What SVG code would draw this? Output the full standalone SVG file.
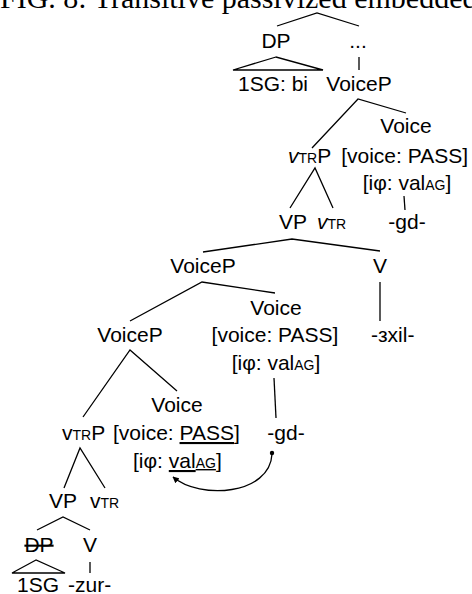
<svg xmlns="http://www.w3.org/2000/svg" width="472" height="594" viewBox="0 0 472 594">
<defs>
<style>
.t{font-family:"Liberation Sans",Arial,sans-serif;font-size:21px;fill:#000}
.s{font-size:14px}
.m{text-anchor:middle}
.e{text-anchor:end}
.title{font-family:"Liberation Serif","Times New Roman",serif;font-size:30px;fill:#000}
.ln{stroke:#000;stroke-width:1.3;fill:none}
</style>
<marker id="ah" viewBox="0 0 10 10" refX="9" refY="5" markerWidth="5" markerHeight="5" orient="auto">
<path d="M0,0 L10,5 L0,10 Z" fill="#000"/>
</marker>
</defs>
<rect width="472" height="594" fill="#fff"/>
<text class="title" x="0" y="8">FIG. 8: Transitive passivized embedded</text>
<g id="connectors">
<polyline class="ln" points="277,26 317,13 359,26"/>
<line class="ln" x1="359" y1="57" x2="359" y2="70"/>
<polygon class="ln" points="276,57 233,70 323,70"/>
<polyline class="ln" points="312,148 358,99 406,113"/>
<polyline class="ln" points="290,208 315,168 333,208"/>
<line class="ln" x1="404" y1="196" x2="405" y2="210"/>
<polyline class="ln" points="203,252 292,239 380,251"/>
<line class="ln" x1="380" y1="282" x2="380" y2="321"/>
<polyline class="ln" points="130,321 202,282 275,293"/>
<line class="ln" x1="274" y1="378" x2="276" y2="418"/>
<polyline class="ln" points="83,417 130,350 177,391"/>
<polyline class="ln" points="64,488 80,448 105,488"/>
<polyline class="ln" points="37,530 63,517 90,530"/>
<line class="ln" x1="90" y1="562" x2="90" y2="573"/>
<polygon class="ln" points="36,560 12,573 65,573"/>
<circle cx="272" cy="453" r="2.2" fill="#000"/>
<path class="ln" stroke-width="1" d="M272,454 C270,495 200,500 173,477" marker-end="url(#ah)"/>
</g>
<g id="n-dp-top"><text class="t m" x="276" y="48">DP</text></g>
<g id="n-dots"><text class="t m" x="358" y="48">...</text></g>
<g id="n-1sg-bi"><text class="t m" x="273" y="91">1SG: bi</text></g>
<g id="n-voicep1"><text class="t m" x="359" y="91">VoiceP</text></g>
<g id="n-voice1">
<text class="t m" x="406" y="133">Voice</text>
<text class="t e" x="468" y="163">[voice: PASS]</text>
<text class="t m" x="407" y="190">[iφ: val<tspan class="s">AG</tspan>]</text>
</g>
<g id="n-vtrp1"><text class="t" x="288" y="163"><tspan font-style="italic">v</tspan><tspan class="s">TR</tspan>P</text></g>
<g id="n-gd1"><text class="t m" x="407" y="229">-gd-</text></g>
<g id="n-vp1"><text class="t m" x="293" y="229">VP</text></g>
<g id="n-vtr1"><text class="t" x="317" y="229"><tspan font-style="italic">v</tspan><tspan class="s">TR</tspan></text></g>
<g id="n-voicep3"><text class="t m" x="203" y="273">VoiceP</text></g>
<g id="n-v1"><text class="t m" x="380" y="273">V</text></g>
<g id="n-3xil"><text class="t" x="371" y="342">-зxil-</text></g>
<g id="n-voicep4"><text class="t m" x="130" y="342">VoiceP</text></g>
<g id="n-voice2">
<text class="t m" x="276" y="315">Voice</text>
<text class="t m" x="275" y="342">[voice: PASS]</text>
<text class="t m" x="276" y="370">[iφ: val<tspan class="s">AG</tspan>]</text>
</g>
<g id="n-gd2"><text class="t m" x="286" y="440">-gd-</text></g>
<g id="n-voice3">
<text class="t m" x="177" y="412">Voice</text>
<text class="t" x="113" y="440">[voice: <tspan text-decoration="underline">PASS</tspan>]</text>
<text class="t" x="133" y="468">[iφ: <tspan text-decoration="underline">val</tspan><tspan class="s" text-decoration="underline">AG</tspan>]</text>
</g>
<g id="n-vtrp2"><text class="t" x="62" y="440">v<tspan class="s">TR</tspan>P</text></g>
<g id="n-vp2"><text class="t m" x="63" y="508">VP</text></g>
<g id="n-vtr2"><text class="t" x="90" y="508">v<tspan class="s">TR</tspan></text></g>
<g id="n-dp2"><text class="t m" x="39" y="552" text-decoration="line-through">DP</text></g>
<g id="n-v2"><text class="t m" x="90" y="552">V</text></g>
<g id="n-1sg"><text class="t" x="17" y="592">1SG</text></g>
<g id="n-zur"><text class="t" x="68" y="592">-zur-</text></g>
</svg>
